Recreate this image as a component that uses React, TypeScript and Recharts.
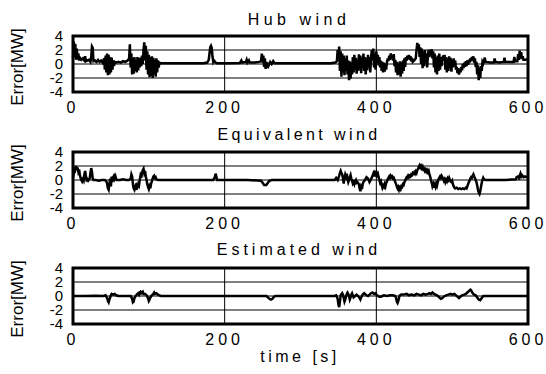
import { CartesianGrid, Line, LineChart, ReferenceArea, XAxis, YAxis } from 'recharts';

const X_TICKS = [0, 200, 400, 600];
const Y_TICKS = [-4, -2, 0, 2, 4];
const FONT = '"Liberation Sans", Arial, sans-serif';

// [time s, error MW]
const hubWind: [number, number][] = [
  [0, 0.8], [1, 3.2], [2, 1.0], [3, 2.9], [4, 0.6], [5, 2.2], [6, 0.7], [7, 1.5], [8, 0.5], [9, 0.9],
  [11, 0.6], [13, 0.8], [15, 0.5], [16, 1.1], [17, 0.4], [19, 0.5], [21, 0.6], [23, 0.3], [24, 1.0], [25, 2.5],
  [26, 2.3], [27, 0.4], [29, 0.5], [31, 0.3], [33, 0.6], [35, 0.3], [37, 0.5], [39, 0.2], [41, 0.8], [42, -0.8],
  [43, 1.2], [44, -1.2], [45, 1.5], [46, -1.6], [47, 1.3], [48, -1.5], [49, 1.0], [50, -1.2], [51, 0.9], [52, -0.8],
  [53, 0.5], [54, -0.3], [55, 0.3], [57, 0.2], [60, 0.3], [63, 0.2], [66, 0.4], [69, 0.3], [72, 0.5], [74, 0.8],
  [75, 2.8], [76, -0.5], [77, 1.5], [78, -1.5], [79, 0.8], [80, -1.4], [81, 1.0], [82, -1.0], [83, 0.6], [84, -1.2],
  [85, 1.0], [86, -0.9], [87, 0.8], [88, -0.5], [89, 0.9], [90, -0.3], [91, 1.2], [92, 0.0], [93, 2.0], [94, 3.1],
  [95, 0.5], [96, 2.6], [97, -0.8], [98, 1.8], [99, -1.5], [100, 1.3], [101, -1.9], [102, 1.0], [103, -1.7], [104, 1.1],
  [105, -2.0], [106, 0.9], [107, -1.5], [108, 0.6], [109, -1.8], [110, 0.8], [111, -1.2], [112, 0.5], [113, -0.5], [114, 0.2],
  [116, 0.1], [130, 0.1], [145, 0.1], [160, 0.1], [172, 0.1], [177, 0.2], [179, 0.6], [180, 1.5], [181, 2.4], [182, 2.6],
  [183, 2.3], [184, 1.0], [185, 0.3], [186, 0.5], [188, 0.2], [190, 0.1], [205, 0.1], [220, 0.15], [222, 0.5], [223, 0.2],
  [228, 0.3], [229, 0.6], [230, 0.2], [232, 0.5], [233, 0.2], [240, 0.2], [245, 0.3], [248, 0.4], [249, 1.5], [250, 0.2],
  [251, 1.2], [252, -0.4], [253, 0.8], [254, -0.7], [255, 0.3], [256, -0.6], [257, 0.2], [258, -0.2], [260, 0.3], [262, 0.0],
  [264, 0.4], [266, 0.1], [280, 0.1], [300, 0.1], [320, 0.1], [340, 0.1], [346, 0.2], [348, 0.4], [349, 2.0], [350, 1.0],
  [351, 2.5], [352, -1.0], [353, 1.8], [354, -1.8], [355, 1.5], [356, -1.2], [357, 1.2], [358, -1.6], [359, 0.8], [360, -1.0],
  [361, 1.2], [362, -1.5], [363, 0.5], [364, -2.3], [365, 0.4], [366, -2.1], [367, 0.2], [368, -1.5], [369, 1.0], [370, -1.2],
  [371, 1.3], [372, -0.8], [373, 0.9], [374, -1.4], [375, 0.6], [376, -1.0], [377, 1.4], [378, -0.8], [379, 1.2], [380, -1.3],
  [381, 0.9], [382, -0.6], [383, 1.5], [384, -1.0], [385, 1.0], [386, -1.5], [387, 0.8], [388, -0.9], [389, 1.3], [390, -0.5],
  [391, 1.0], [392, -1.2], [393, 0.8], [394, 2.0], [395, 0.5], [396, 2.2], [397, -0.5], [398, 1.5], [399, -0.8], [400, 1.8],
  [401, 0.2], [402, 1.3], [403, -0.2], [404, 1.0], [405, -0.5], [406, 0.5], [407, -1.0], [408, 0.3], [409, -1.2], [410, 0.2],
  [411, -1.1], [412, 0.0], [413, -0.8], [414, 0.3], [415, 0.8], [416, 0.4], [417, 1.2], [418, 0.6], [419, 1.5], [420, 0.8],
  [421, 1.2], [422, 0.5], [423, 1.4], [424, -0.3], [425, 0.6], [426, -1.2], [427, 0.3], [428, -1.6], [429, 0.1], [430, -1.5],
  [431, 0.4], [432, -1.8], [433, 0.2], [434, -1.4], [435, 0.5], [436, -1.0], [437, 0.8], [438, -0.4], [439, 1.0], [440, 0.5],
  [441, 1.2], [442, 0.7], [443, 1.3], [444, 0.6], [445, 1.1], [446, 0.4], [447, 0.9], [448, 0.3], [450, 0.5], [452, 0.8],
  [453, 2.0], [454, 3.0], [455, 2.2], [456, 2.8], [457, 1.0], [458, 2.4], [459, 0.0], [460, 2.2], [461, -0.6], [462, 1.8],
  [463, -0.3], [464, 2.0], [465, 0.5], [466, 1.5], [467, -0.5], [468, 1.2], [469, 2.0], [470, 1.0], [471, 2.0], [472, 1.5],
  [473, 2.1], [474, 0.8], [475, 1.8], [476, -0.5], [477, 1.5], [478, -1.2], [479, 1.0], [480, -1.5], [481, 1.2], [482, -1.0],
  [483, 1.5], [484, -0.8], [485, 1.0], [486, -0.3], [487, 0.8], [488, 1.2], [489, 0.5], [490, 1.3], [491, -0.8], [492, 1.0],
  [493, -1.2], [494, 0.8], [495, -1.0], [496, 1.1], [497, -0.6], [498, 0.9], [499, -1.1], [500, 0.6], [501, -0.5], [502, 0.8],
  [503, -0.2], [504, 0.5], [505, -0.8], [506, -0.4], [507, -1.3], [508, -0.6], [509, -1.5], [510, -0.8], [511, -1.2], [512, -0.4],
  [513, -0.9], [514, 0.0], [515, -0.6], [516, 0.2], [517, -0.4], [518, 0.4], [519, -0.3], [520, 0.5], [521, -0.1], [522, 0.6],
  [523, 0.2], [524, 0.8], [525, 0.4], [526, 1.0], [527, 0.6], [528, 1.1], [529, 0.2], [530, 0.8], [531, -0.4], [532, 0.3],
  [533, -1.5], [534, -0.2], [535, -2.3], [536, -0.5], [537, -2.0], [538, -0.3], [539, -1.0], [540, 0.3], [541, 0.1], [542, 0.5],
  [543, 0.9], [544, 0.3], [550, 0.2], [555, 0.2], [556, 0.8], [557, 0.3], [562, 0.2], [568, 0.3], [569, 0.9], [570, 0.3],
  [576, 0.3], [581, 0.3], [582, 1.0], [583, 0.4], [586, 0.4], [587, 1.4], [588, 0.6], [589, 1.9], [590, 0.8], [591, 1.7],
  [592, 0.7], [593, 1.1], [594, 0.6], [597, 0.6], [600, 0.7],
];

const equivalentWind: [number, number][] = [
  [0, 0.3], [1, 1.0], [2, 1.8], [3, 1.5], [4, 2.0], [5, 1.4], [6, 1.8], [7, 1.2], [8, 1.5], [9, 0.8],
  [10, 0.3], [11, 0.0], [12, -0.2], [13, 0.1], [14, -0.1], [15, 0.8], [16, 1.3], [17, 0.6], [18, 0.0], [19, 0.1],
  [20, -0.1], [22, 0.2], [23, 1.0], [24, 1.7], [25, 1.2], [26, 0.2], [27, 0.0], [30, 0.0], [34, -0.1], [38, 0.0],
  [42, 0.0], [44, -0.2], [45, -0.5], [46, -1.2], [47, -1.4], [48, -0.6], [49, 0.2], [50, -0.9], [51, 0.5], [52, -0.3],
  [53, 0.4], [54, 0.6], [55, 0.2], [56, 0.5], [57, 0.1], [58, 0.0], [62, 0.0], [66, 0.1], [70, 0.0], [74, 0.0],
  [76, 0.2], [77, 0.8], [78, 0.5], [79, -0.6], [80, -1.2], [81, -1.4], [82, -1.0], [83, -1.4], [84, -0.8], [85, -1.0],
  [86, -0.6], [87, -0.8], [88, 0.0], [89, 0.6], [90, 0.3], [91, 1.0], [92, 1.4], [93, 1.6], [94, 1.0], [95, 1.3],
  [96, 0.5], [97, 0.0], [98, -0.6], [99, -1.0], [100, -1.3], [101, -0.9], [102, -1.2], [103, -0.5], [104, -0.2], [105, 0.2],
  [106, 0.5], [107, 0.6], [108, 0.3], [109, 0.4], [110, 0.1], [112, 0.0], [130, 0.0], [150, 0.0], [170, 0.0], [185, 0.0],
  [187, 0.4], [188, 0.9], [189, 0.5], [190, 0.0], [210, 0.0], [230, 0.0], [248, -0.1], [250, -0.4], [252, -0.7], [255, -0.7],
  [257, -0.4], [259, -0.1], [262, 0.0], [290, 0.0], [320, 0.0], [345, 0.0], [347, 0.3], [349, 0.0], [351, 0.6], [352, 1.0],
  [353, 1.3], [354, 1.0], [355, 0.8], [356, 0.2], [357, -0.5], [358, 0.3], [359, 0.8], [360, 0.5], [361, 0.9], [362, 0.2],
  [363, -0.3], [364, 0.0], [365, 0.4], [366, 0.7], [367, 0.2], [368, -0.1], [369, -0.5], [370, -0.3], [371, -0.6], [372, -0.2],
  [373, 0.0], [374, -0.4], [375, -0.3], [377, -0.6], [378, -1.2], [379, -1.6], [380, -1.0], [381, -1.3], [382, -0.6], [383, -0.3],
  [385, 0.0], [387, 0.4], [389, 0.2], [391, -0.3], [393, 0.1], [395, 0.6], [396, 0.9], [397, 0.5], [398, 1.0], [399, 0.8],
  [400, 1.1], [401, 0.7], [402, 0.9], [403, 0.4], [404, 0.0], [405, -0.4], [406, -0.2], [407, -0.7], [408, -1.1], [409, -0.8],
  [410, -1.0], [411, -0.6], [412, -0.9], [413, -0.4], [414, -0.2], [415, 0.1], [416, 0.3], [417, 0.5], [418, 0.3], [419, 0.6],
  [420, 0.4], [421, 0.5], [422, 0.2], [423, 0.3], [424, 0.0], [425, -0.3], [426, -0.6], [427, -0.9], [428, -1.2], [429, -1.0],
  [430, -1.4], [431, -1.1], [432, -1.3], [433, -0.9], [434, -1.0], [435, -0.6], [436, -0.7], [437, -0.3], [438, -0.1], [439, 0.2],
  [440, 0.4], [441, 0.3], [442, 0.6], [443, 0.4], [444, 0.6], [445, 0.5], [446, 0.8], [447, 0.7], [448, 1.0], [449, 0.9],
  [450, 1.1], [451, 0.9], [452, 1.2], [453, 1.0], [454, 1.4], [455, 1.6], [456, 1.9], [457, 2.1], [458, 1.8], [459, 2.0],
  [460, 1.7], [461, 1.9], [462, 1.5], [463, 1.6], [464, 1.3], [465, 1.5], [466, 1.2], [467, 1.4], [468, 1.1], [469, 1.3],
  [470, 0.8], [471, 0.5], [472, 0.0], [473, -0.4], [474, -0.9], [475, -0.6], [476, -1.1], [477, -0.7], [478, -1.0], [479, -0.5],
  [480, -0.8], [481, -0.3], [482, 0.1], [483, 0.3], [484, 0.5], [485, 0.3], [486, 0.6], [487, 0.4], [488, 0.2], [489, -0.1],
  [490, 0.1], [491, -0.3], [492, 0.0], [493, -0.2], [494, 0.2], [495, 0.0], [496, 0.3], [497, 0.0], [498, -0.2], [499, -0.3],
  [500, -0.1], [501, -0.6], [502, -0.9], [503, -1.1], [504, -1.2], [506, -1.1], [508, -1.3], [510, -1.2], [512, -1.3], [514, -1.2],
  [516, -1.3], [518, -1.1], [519, -1.2], [520, -0.9], [521, -0.6], [522, -0.3], [523, -0.1], [524, 0.2], [525, 0.4], [526, 0.3],
  [527, 0.6], [528, 0.8], [529, 0.5], [530, 0.3], [531, 0.0], [532, -0.3], [533, -0.8], [534, -1.4], [535, -1.8], [536, -2.0],
  [537, -1.6], [538, -1.0], [539, -0.4], [540, 0.0], [541, 0.3], [542, 0.1], [544, 0.0], [555, 0.0], [570, 0.0], [584, 0.1],
  [585, 0.4], [587, 0.5], [588, 0.3], [589, 0.6], [590, 0.9], [591, 0.5], [592, 0.7], [594, 0.4], [596, 0.5], [598, 0.4],
  [600, 0.5],
];

const estimatedWind: [number, number][] = [
  [0, 0.0], [15, 0.0], [30, 0.05], [40, 0.0], [43, 0.1], [45, -0.3], [46, -0.7], [47, -0.9], [48, -0.5], [49, -0.2],
  [50, 0.1], [51, 0.3], [53, 0.2], [55, 0.3], [57, 0.1], [60, 0.0], [70, 0.0], [76, 0.0], [78, -0.4], [79, -0.9],
  [80, -0.8], [81, -0.3], [82, -0.1], [84, 0.2], [86, 0.4], [87, 0.2], [88, 0.5], [89, 0.6], [90, 0.4], [92, 0.6],
  [93, 0.3], [95, 0.3], [97, 0.1], [99, -0.3], [100, -0.7], [101, -0.5], [102, -0.2], [104, 0.1], [106, 0.3], [107, 0.5],
  [108, 0.3], [110, 0.4], [112, 0.2], [114, 0.1], [116, 0.0], [150, 0.0], [200, 0.0], [255, 0.0], [257, -0.2], [259, -0.4],
  [261, -0.5], [263, -0.4], [265, -0.1], [267, 0.0], [300, 0.0], [345, 0.0], [347, 0.1], [349, -0.4], [350, -1.2], [351, -1.6],
  [352, -0.8], [353, 0.1], [355, 0.4], [356, 0.2], [357, -0.3], [358, -0.8], [359, -0.5], [360, -0.1], [361, 0.3], [362, 0.5],
  [363, 0.3], [364, 0.0], [365, -0.5], [366, -0.2], [367, 0.2], [368, 0.4], [369, 0.1], [370, -0.2], [372, 0.0], [374, 0.2],
  [376, 0.0], [378, -0.3], [379, -0.5], [380, -0.2], [382, 0.2], [384, 0.4], [385, 0.3], [387, 0.1], [389, 0.0], [391, 0.2],
  [393, 0.4], [395, 0.5], [397, 0.3], [399, 0.4], [400, 0.2], [402, 0.0], [404, -0.1], [406, -0.1], [408, 0.0], [410, 0.1],
  [414, 0.0], [418, 0.1], [422, 0.1], [425, 0.0], [426, -0.3], [427, -0.8], [428, -1.0], [429, -0.7], [430, -0.2], [431, 0.1],
  [433, 0.2], [436, 0.2], [440, 0.3], [443, 0.1], [446, 0.2], [450, 0.1], [453, 0.3], [456, 0.2], [459, 0.1], [462, 0.3],
  [465, 0.2], [468, 0.3], [470, 0.4], [472, 0.3], [474, 0.5], [476, 0.3], [478, 0.2], [480, 0.1], [483, -0.2], [485, -0.4],
  [487, -0.3], [489, -0.1], [492, 0.1], [495, 0.2], [498, 0.3], [500, 0.2], [503, 0.3], [505, 0.1], [507, -0.1], [509, -0.3],
  [511, -0.1], [513, 0.1], [516, 0.2], [518, 0.3], [520, 0.5], [522, 0.7], [524, 0.9], [525, 0.8], [526, 0.6], [527, 0.4],
  [529, 0.2], [531, 0.1], [533, -0.2], [535, -0.5], [537, -0.6], [539, -0.3], [541, 0.0], [545, 0.0], [570, 0.0], [600, 0.0],
];

const PANELS = [
  { title: 'Hub wind', spacing: 4.5, data: hubWind },
  { title: 'Equivalent wind', spacing: 3.4, data: equivalentWind },
  { title: 'Estimated wind', spacing: 4, data: estimatedWind },
];

const PANEL_H = 116;

function Panel({ data }: { data: [number, number][] }) {
  const rows = data.map(([t, v]) => ({ t, v }));
  return (
    <LineChart width={546} height={PANEL_H} data={rows} margin={{ top: 36, right: 18, bottom: 0, left: 0 }}>
      <CartesianGrid stroke="#000" strokeWidth={1} />
      <XAxis
        type="number"
        dataKey="t"
        domain={[0, 600]}
        ticks={X_TICKS}
        height={24}
        axisLine={false}
        tickLine={false}
        tickMargin={4}
        tick={{ fontSize: 16, fill: '#000', fontFamily: FONT, letterSpacing: 4 }}
      />
      <YAxis
        type="number"
        domain={[-4, 4]}
        ticks={Y_TICKS}
        width={73}
        axisLine={false}
        tickLine={false}
        tickMargin={4}
        interval={0}
        tick={{ fontSize: 15, fill: '#000', fontFamily: FONT }}
      />
      <Line type="linear" dataKey="v" stroke="#000" strokeWidth={2.5} dot={false} isAnimationActive={false} />
      <ReferenceArea
        x1={0}
        x2={600}
        y1={-4}
        y2={4}
        ifOverflow="visible"
        fill="none"
        fillOpacity={0}
        stroke="#000"
        strokeWidth={3}
      />
    </LineChart>
  );
}

export default function App() {
  return (
    <div style={{ position: 'absolute', left: 0, top: 0, width: 546, height: 374, background: '#fff', fontFamily: FONT }}>
      {PANELS.map((p, i) => (
        <div key={p.title} style={{ position: 'absolute', left: 0, top: i * PANEL_H }}>
          <Panel data={p.data} />
        </div>
      ))}
      <svg width={546} height={374} style={{ position: 'absolute', left: 0, top: 0, pointerEvents: 'none' }}>
        {PANELS.map((p, i) => (
          <g key={p.title}>
            <text
              x={299}
              y={19 + i * 115}
              textAnchor="middle"
              dominantBaseline="central"
              fontSize={16}
              letterSpacing={p.spacing}
              fontFamily={FONT}
            >
              {p.title}
            </text>
            <text
              x={17}
              y={67 + i * 116}
              transform={`rotate(-90 17 ${67 + i * 116})`}
              textAnchor="middle"
              dominantBaseline="central"
              fontSize={17}
              fontFamily={FONT}
            >
              Error[MW]
            </text>
          </g>
        ))}
        <text x={300} y={356} textAnchor="middle" dominantBaseline="central" fontSize={16} letterSpacing={3.5} fontFamily={FONT}>
          time [s]
        </text>
      </svg>
    </div>
  );
}
